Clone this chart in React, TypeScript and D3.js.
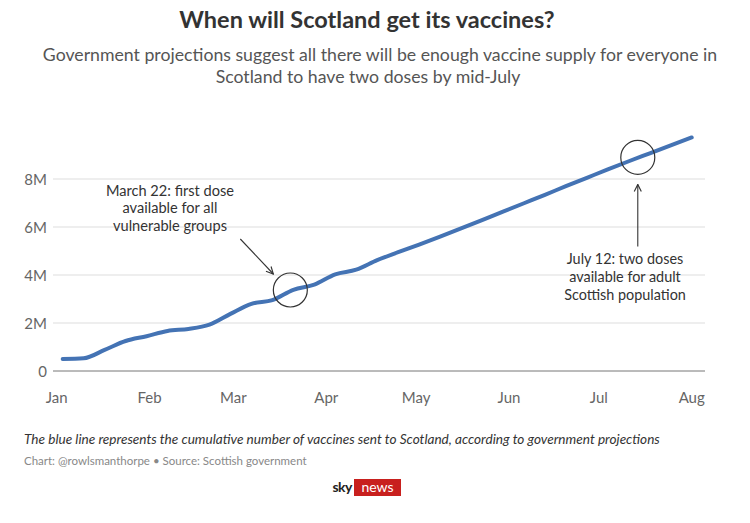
import React from "react";
import * as d3 from "d3";

const dates = [
  "2021-01-03","2021-01-10","2021-01-17","2021-01-24","2021-01-31",
  "2021-02-07","2021-02-14","2021-02-21","2021-02-28",
  "2021-03-07","2021-03-14","2021-03-21","2021-03-28",
  "2021-04-04","2021-04-11","2021-04-18","2021-04-25",
  "2021-05-02","2021-05-09","2021-05-16","2021-05-23","2021-05-30",
  "2021-06-06","2021-06-13","2021-06-20","2021-06-27",
  "2021-07-04","2021-07-11","2021-07-18","2021-07-25","2021-08-01",
];
const vaccines = [
  0.5, 0.53, 0.88, 1.25, 1.45,
  1.67, 1.75, 1.93, 2.38,
  2.8, 2.95, 3.38, 3.6,
  4.03, 4.22, 4.62, 4.95,
  5.27, 5.6, 5.94, 6.29, 6.64,
  6.99, 7.34, 7.7, 8.05,
  8.4, 8.74, 9.07, 9.4, 9.73,
].map((v) => v * 1e6);

const yTicks = [0, 2e6, 4e6, 6e6, 8e6];
const yTickLabels = ["0", "2M", "4M", "6M", "8M"];
const xTickLabels = ["Jan", "Feb", "Mar", "Apr", "May", "Jun", "Jul", "Aug"];

const annotationDates = ["2021-03-20", "2021-07-14"];
const annotationValues = [3.375e6, 8.9e6];
const annotationTexts = [
  ["March 22: first dose", "available for all", "vulnerable groups"],
  ["July 12: two doses", "available for adult", "Scottish population"],
];

const title = "When will Scotland get its vaccines?";
const subtitle = [
  "Government projections suggest all there will be enough vaccine supply for everyone in",
  "Scotland to have two doses by mid-July",
];
const note = "The blue line represents the cumulative number of vaccines sent to Scotland, according to government projections";
const source = "Chart: @rowlsmanthorpe \u2022 Source: Scottish government";

const parse = d3.timeParse("%Y-%m-%d");

export default function App() {
  const W = 750, H = 523;
  const font = "Lato, 'Open Sans', sans-serif";
  const x = d3.scaleTime()
    .domain([parse("2021-01-01")!, parse("2021-08-01")!])
    .range([56.7, 691.7]);
  const y = d3.scaleLinear().domain([0, 8e6]).range([371, 179]);
  const data = dates.map((d, i) => ({ date: parse(d)!, value: vaccines[i] }));
  const line = d3.line<{ date: Date; value: number }>()
    .x((d) => x(d.date))
    .y((d) => y(d.value))
    .curve(d3.curveMonotoneX);
  const months = x.ticks(d3.timeMonth.every(1)!);
  const fmt = d3.timeFormat("%b");

  const a0x = x(parse(annotationDates[0])!), a0y = y(annotationValues[0]);
  const a1x = x(parse(annotationDates[1])!), a1y = y(annotationValues[1]);

  return (
    <svg width={W} height={H} style={{ position: "absolute", left: 0, top: 0, background: "#fff" }}
      fontFamily={font}>
      <defs>
        <marker id="arr" viewBox="0 0 10 10" refX="9" refY="5" markerWidth="8" markerHeight="8" orient="auto-start-reverse">
          <path d="M1,1 L9,5 L1,9" fill="none" stroke="#333" strokeWidth="1.3" />
        </marker>
      </defs>
      <text x={367} y={28} textAnchor="middle" fontSize={23.5} fontWeight={700} fill="#333">{title}</text>
      {subtitle.map((s, i) => (
        <text key={i} x={380 - i * 12} y={61 + i * 22} textAnchor="middle" fontSize={17.7} fill="#555">{s}</text>
      ))}

      {yTicks.map((t, i) => (
        <g key={t}>
          <line x1={53} x2={705} y1={y(t)} y2={y(t)} stroke={t === 0 ? "#777" : "#ddd"} strokeWidth={1} />
          <text x={47} y={y(t) + 5.5} textAnchor="end" fontSize={15} fill="#666">{yTickLabels[i]}</text>
        </g>
      ))}
      {months.map((m, i) => (
        <text key={i} x={x(m)} y={403} textAnchor="middle" fontSize={15} fill="#666">
          {xTickLabels[i] ?? fmt(m)}
        </text>
      ))}

      <path d={line(data)!} fill="none" stroke="#4473b4" strokeWidth={4} strokeLinejoin="round" strokeLinecap="round" />

      <circle cx={a0x} cy={a0y} r={17} fill="none" stroke="#333" strokeWidth={1.2} />
      <circle cx={a1x} cy={a1y} r={17} fill="none" stroke="#333" strokeWidth={1.2} />
      <line x1={a0x - 50} y1={a0y - 51} x2={a0x - 17} y2={a0y - 16} stroke="#333" strokeWidth={1.1} markerEnd="url(#arr)" />
      <line x1={a1x} y1={a1y + 89} x2={a1x} y2={a1y + 27} stroke="#333" strokeWidth={1.1} markerEnd="url(#arr)" />

      {annotationTexts[0].map((s, i) => (
        <text key={i} x={170} y={195.5 + i * 17.7} textAnchor="middle" fontSize={14.6} fill="#333">{s}</text>
      ))}
      {annotationTexts[1].map((s, i) => (
        <text key={i} x={625} y={263.5 + i * 18} textAnchor="middle" fontSize={14.4} fill="#333">{s}</text>
      ))}

      <text x={24} y={444} fontSize={13.6} fontStyle="italic" fill="#333">{note}</text>
      <text x={24} y={465} fontSize={11.5} fill="#888">{source}</text>

      <text x={352} y={492} textAnchor="end" fontSize={14} fontWeight={700} fill="#222" letterSpacing={-0.5}>sky</text>
      <rect x={354} y={479} width={47} height={17} fill="#c8201e" />
      <text x={377.5} y={492} textAnchor="middle" fontSize={14} fill="#fff">news</text>
    </svg>
  );
}
